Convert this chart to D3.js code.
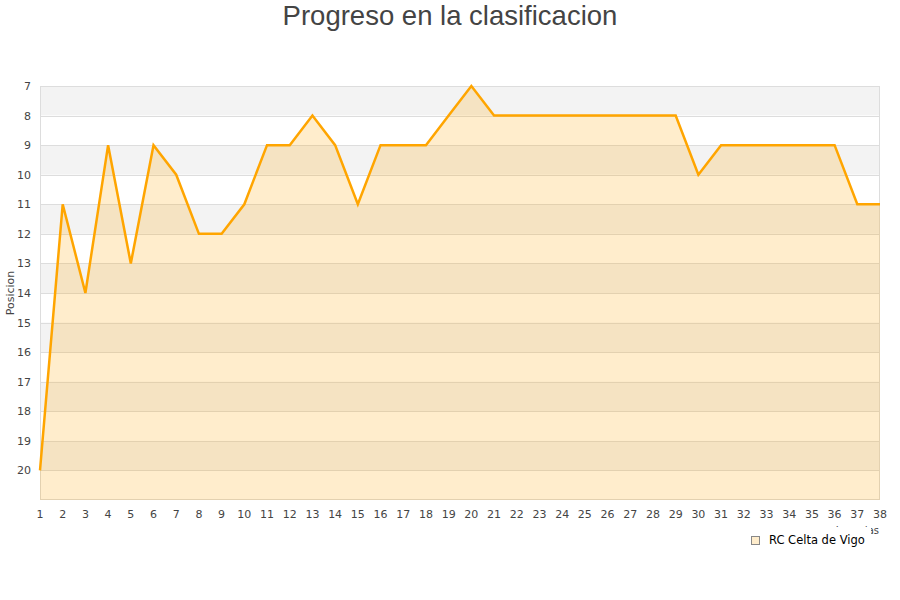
<!DOCTYPE html>
<html><head><meta charset="utf-8">
<script src="https://cdn.jsdelivr.net/npm/d3@7"></script>
<style>body{margin:0;background:#fff;} svg{display:block;}</style>
</head><body>
<script>
const jornadas = d3.range(1, 39);
const posiciones = [20,11,14,9,13,9,10,12,12,11,9,9,8,9,11,9,9,9,8,7,8,8,8,8,8,8,8,8,8,10,9,9,9,9,9,9,11,11];
const yTicks = [7,8,9,10,11,12,13,14,15,16,17,18,19,20];
const seriesName = "RC Celta de Vigo";
const title = "Progreso en la clasificacion";
const yTitle = "Posicion";
const xTitle = "Jornadas";

const W = 900, H = 600;
const svg = d3.select("body").append("svg").attr("width", W).attr("height", H);

const x = d3.scaleLinear().domain([1, 38]).range([40, 880]);
const y = d3.scaleLinear().domain([7, 21]).range([86, 500]);

// bands
const bands = d3.range(7, 21);
svg.append("g").selectAll("rect").data(bands).join("rect")
  .attr("x", 40).attr("width", 840)
  .attr("y", d => y(d)).attr("height", d => y(d+1) - y(d))
  .attr("fill", d => (d % 2 === 1) ? "#f3f3f3" : "#ffffff");

// grid
svg.append("g").selectAll("line").data(d3.range(7, 21)).join("line")
  .attr("x1", 40).attr("x2", 880)
  .attr("y1", d => Math.round(y(d)) + 0.5).attr("y2", d => Math.round(y(d)) + 0.5)
  .attr("stroke", "#dddddd").attr("stroke-width", 1);

// border
svg.append("rect").attr("x", 40.5).attr("y", 86.5).attr("width", 839).attr("height", 413)
  .attr("fill", "none").attr("stroke", "#dddddd");

const data = jornadas.map((j, i) => ({j, p: posiciones[i]}));
svg.append("path").datum(data)
  .attr("d", d3.area().x(d => x(d.j)).y0(y(21)).y1(d => y(d.p)))
  .attr("fill", "#ffa500").attr("fill-opacity", 0.2);
svg.append("path").datum(data)
  .attr("d", d3.line().x(d => x(d.j)).y(d => y(d.p)))
  .attr("fill", "none").attr("stroke", "#ffa500").attr("stroke-width", 2.5)
  .attr("stroke-linejoin", "miter");

// y ticks
svg.append("g").selectAll("text").data(yTicks).join("text")
  .attr("x", 31).attr("y", d => y(d) + 4)
  .attr("text-anchor", "end")
  .attr("font-family", "DejaVu Sans, sans-serif").attr("font-size", 11).attr("fill", "#444")
  .text(d => d);

// x ticks
svg.append("g").selectAll("text").data(jornadas).join("text")
  .attr("x", d => x(d)).attr("y", 518)
  .attr("text-anchor", "middle")
  .attr("font-family", "DejaVu Sans, sans-serif").attr("font-size", 11).attr("fill", "#444")
  .text(d => d);

// titles
svg.append("text").attr("x", 450).attr("y", 25).attr("text-anchor", "middle")
  .attr("font-family", "Liberation Sans, Arial, sans-serif").attr("font-size", 27.5).attr("fill", "#444")
  .text(title);
svg.append("text").attr("transform", "translate(14,293) rotate(-90)").attr("text-anchor", "middle")
  .attr("font-family", "DejaVu Sans, sans-serif").attr("font-size", 11).attr("fill", "#444")
  .text(yTitle);

// x title (largely covered by the legend box, as in reference)
svg.append("text").attr("x", 879).attr("y", 534).attr("text-anchor", "end")
  .attr("font-family", "DejaVu Sans, sans-serif").attr("font-size", 10).attr("fill", "#444")
  .text(xTitle);

// legend
const lg = svg.append("g").attr("transform", "translate(751,536)");
lg.append("rect").attr("x", -6).attr("y", -9).attr("width", 126).attr("height", 22).attr("fill", "#fff");
lg.append("rect").attr("x", 0.5).attr("y", 0.5).attr("width", 8).attr("height", 8)
  .attr("fill", "#ffedcc").attr("stroke", "#888");
lg.append("text").attr("x", 18).attr("y", 8).attr("font-family", "DejaVu Sans, sans-serif")
  .attr("font-size", 11.5).attr("fill", "#000").text(seriesName);
</script>
</body></html>
